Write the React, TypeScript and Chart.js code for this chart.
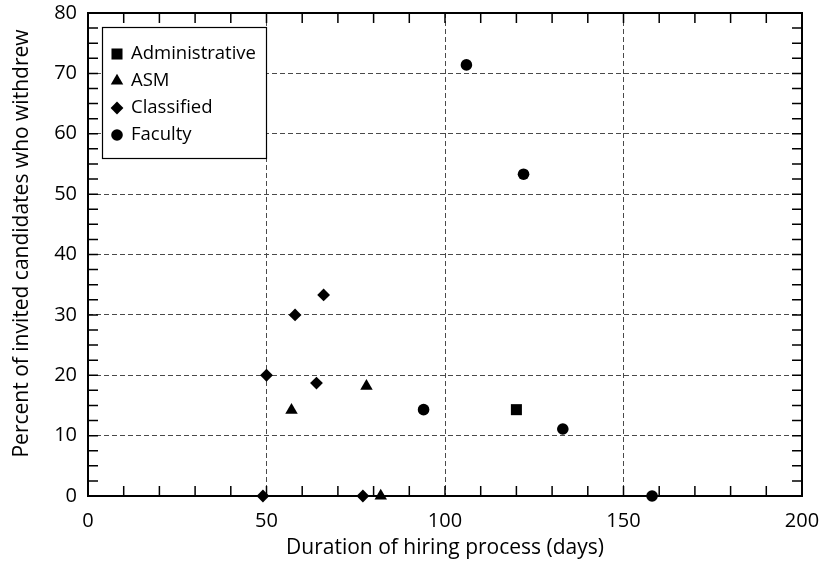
import { useEffect, useRef } from 'react';
import { Chart, registerables } from 'chart.js';
import { drawPoint } from 'chart.js/helpers';

Chart.register(...registerables);

// ---- data ----
const seriesNames = ['Administrative', 'ASM', 'Classified', 'Faculty'];
const seriesStyles = ['rect', 'triangle', 'rectRot', 'circle'];
const seriesRadius = [7.8, 7.2, 6.4, 5.8];

const adminDays = [120];
const adminPct = [14.3];

const asmDays = [57, 78, 82];
const asmPct = [14.2, 18.2, 0];

const classifiedDays = [50, 58, 66, 64, 49, 77];
const classifiedPct = [20, 30, 33.3, 18.7, 0, 0];

const facultyDays = [94, 106, 122, 133, 158];
const facultyPct = [14.3, 71.4, 53.3, 11.1, 0];

const xTickValues = [0, 50, 100, 150, 200];
const yTickValues = [0, 10, 20, 30, 40, 50, 60, 70, 80];

const xTitle = 'Duration of hiring process (days)';
const yTitle = 'Percent of invited candidates who withdrew';

const FONT = "'Open Sans'";

const toPoints = (xs: number[], ys: number[]) => xs.map((x, i) => ({ x, y: ys[i] }));

const frameAndTicks = {
  id: 'frameAndTicks',
  beforeDatasetsDraw(chart: any) {
    const { ctx, chartArea: a, scales } = chart;
    const xs = scales.x;
    const ys = scales.y;
    const tl = 10;
    ctx.save();
    ctx.strokeStyle = '#000';
    ctx.lineWidth = 1.5;
    ctx.beginPath();
    for (let v = 10; v < 200; v += 10) {
      const px = xs.getPixelForValue(v);
      ctx.moveTo(px, a.bottom);
      ctx.lineTo(px, a.bottom - tl);
      ctx.moveTo(px, a.top);
      ctx.lineTo(px, a.top + tl);
    }
    for (let v = 2.5; v < 80; v += 2.5) {
      const py = ys.getPixelForValue(v);
      ctx.moveTo(a.left, py);
      ctx.lineTo(a.left + tl, py);
      ctx.moveTo(a.right, py);
      ctx.lineTo(a.right - tl, py);
    }
    ctx.stroke();
    ctx.lineWidth = 2;
    ctx.strokeRect(a.left, a.top, a.right - a.left, a.bottom - a.top);
    ctx.restore();

    // y axis title (rotated)
    ctx.save();
    ctx.translate(22, (a.top + a.bottom) / 2 - 11);
    ctx.rotate(-Math.PI / 2);
    ctx.font = `21px ${FONT}`;
    ctx.fillStyle = '#000';
    ctx.textAlign = 'center';
    ctx.textBaseline = 'middle';
    ctx.fillText(yTitle, 0, 0);
    ctx.restore();
  },
};

const boxLegend = {
  id: 'boxLegend',
  afterDraw(chart: any) {
    const { ctx, chartArea: a } = chart;
    const left = a.left + 14;
    const top = a.top + 14;
    const w = 164;
    const h = 131;
    ctx.save();
    ctx.fillStyle = '#fff';
    ctx.fillRect(left, top, w, h);
    ctx.strokeStyle = '#000';
    ctx.lineWidth = 1.2;
    ctx.strokeRect(left + 0.5, top + 0.5, w, h);
    ctx.font = `18.5px ${FONT}`;
    ctx.textBaseline = 'middle';
    ctx.textAlign = 'left';
    seriesNames.forEach((name, i) => {
      const cy = top + 27 + i * 27;
      ctx.fillStyle = '#000';
      ctx.strokeStyle = '#000';
      drawPoint(ctx, { pointStyle: seriesStyles[i] as any, radius: seriesRadius[i], rotation: 0, borderWidth: 0 } as any, left + 15, cy);
      ctx.fillStyle = '#000';
      ctx.fillText(name, left + 29, cy);
    });
    ctx.restore();
  },
};

export default function App() {
  const ref = useRef<HTMLCanvasElement | null>(null);

  useEffect(() => {
    if (!ref.current) return;
    const allSeries = [
      toPoints(adminDays, adminPct),
      toPoints(asmDays, asmPct),
      toPoints(classifiedDays, classifiedPct),
      toPoints(facultyDays, facultyPct),
    ];
    const chart = new Chart(ref.current, {
      type: 'scatter',
      data: {
        datasets: allSeries.map((pts, i) => ({
          label: seriesNames[i],
          data: pts,
          pointStyle: seriesStyles[i] as any,
          pointRadius: seriesRadius[i],
          pointBackgroundColor: '#000',
          pointBorderColor: '#000',
          pointBorderWidth: 0,
          clip: false as any,
        })),
      },
      options: {
        animation: false,
        responsive: true,
        maintainAspectRatio: false,
        layout: { padding: { top: 13, right: 28, left: 0, bottom: 0 } },
        plugins: {
          legend: { display: false },
          tooltip: { enabled: false },
        },
        scales: {
          x: {
            type: 'linear',
            min: 0,
            max: 200,
            afterBuildTicks: (s: any) => {
              s.ticks = xTickValues.map((v) => ({ value: v }));
            },
            afterFit: (s: any) => {
              s.height = 80;
              s.paddingLeft = 0;
              s.paddingRight = 0;
            },
            ticks: {
              color: '#000',
              font: { family: FONT, size: 20 },
              padding: 13,
              maxRotation: 0,
              autoSkip: false,
            },
            grid: {
              drawTicks: false,
              lineWidth: 1,
              color: (c: any) => (c.tick && (c.tick.value === 0 || c.tick.value === 200) ? 'rgba(0,0,0,0)' : '#4a4a4a'),
            },
            border: { display: false, dash: [5, 3] },
            title: {
              display: true,
              text: xTitle,
              color: '#000',
              font: { family: FONT, size: 21 },
              padding: { top: 0, bottom: 15 },
            },
          },
          y: {
            type: 'linear',
            min: 0,
            max: 80,
            afterBuildTicks: (s: any) => {
              s.ticks = yTickValues.map((v) => ({ value: v }));
            },
            afterFit: (s: any) => {
              s.width = 88;
              s.paddingTop = 0;
              s.paddingBottom = 0;
            },
            ticks: {
              color: '#000',
              font: { family: FONT, size: 20 },
              padding: 11,
              autoSkip: false,
            },
            grid: {
              drawTicks: false,
              lineWidth: 1,
              color: (c: any) => (c.tick && (c.tick.value === 0 || c.tick.value === 80) ? 'rgba(0,0,0,0)' : '#4a4a4a'),
            },
            border: { display: false, dash: [5, 3] },
            title: { display: false },
          },
        },
      },
      plugins: [frameAndTicks, boxLegend],
    });
    return () => chart.destroy();
  }, []);

  return (
    <div style={{ position: 'absolute', left: 0, top: 0, width: 830, height: 576, background: '#fff' }}>
      <canvas ref={ref} />
    </div>
  );
}
